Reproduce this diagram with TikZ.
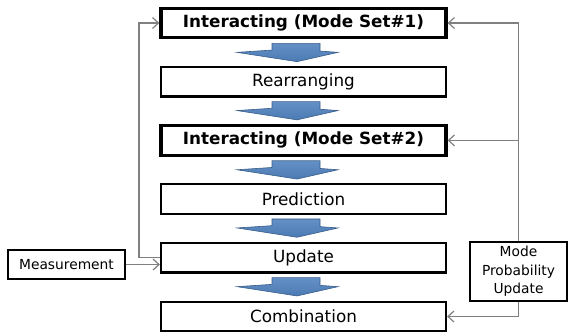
\documentclass[tikz,border=0pt]{standalone}
\usepackage{fontspec}
\setmainfont{DejaVu Sans}
\usetikzlibrary{positioning,arrows.meta}
\definecolor{arrfill}{RGB}{79,129,189}
\definecolor{arredge}{RGB}{56,93,138}
\tikzset{
  stagebox/.style={draw,line width=2.2pt,minimum width=285pt,minimum height=29.5pt,inner sep=0pt,font=\fontsize{16.8}{18}\selectfont},
  keybox/.style={stagebox,line width=3.2pt,font=\fontsize{16.8}{18}\selectfont\bfseries},
  sidebox/.style={draw,line width=2pt,fill=white,inner sep=0pt,align=center,font=\fontsize{13.8}{18.5}\selectfont},
  fb/.style={draw=gray,line width=1.2pt,-{Straight Barb[length=6pt,width=11pt]}},
  blockarrow/.style={draw=arredge,line width=0.6pt,top color=arrfill!88!white,bottom color=arrfill!95!black},
}
\begin{document}
\begin{tikzpicture}[x=1pt,y=-1pt]
\useasboundingbox (0,0) rectangle (568,333);
\pgfmathsetmacro{\kx}{303.5}
\foreach \kn/\ks/\ky/\kt in {int1/keybox/23/{Interacting (Mode Set\#1)},rea/stagebox/81.7/{Rearranging},int2/keybox/140.4/{Interacting (Mode Set\#2)},pre/stagebox/199.1/{Prediction},upd/stagebox/257.8/{Update},comb/stagebox/316.5/{Combination}}{\node[\ks](\kn) at (\kx,\ky){\kt};}
\node[sidebox,minimum width=117pt,minimum height=29.5pt](meas) at (66.5,264.5){Measurement};
\node[sidebox,minimum width=97pt,minimum height=59pt](mpu) at (518.5,271.5){Mode\\Probability\\Update};
% block arrows between the stages
\foreach \ka in {int1,rea,int2,pre,upd}{
\begin{scope}[shift={(\ka.south)}]
\draw[blockarrow] (-31.5,4)--(16.5,4)--(16.5,11.7)--(34.5,13)--(-6.5,22.3)--(-66.5,13)--(-31.5,10.7)--cycle;
\end{scope}
}
\draw[fb] (mpu.north) |- (int1.east);
\draw[fb] (mpu.north) |- (int2.east);
\draw[fb] (mpu.south) |- (comb.east);
\draw[fb] (upd.west) -- ++(-21,0) |- (int1.west);
\draw[fb] (meas.east) -- (meas.east -| upd.west);
\end{tikzpicture}
\end{document}
